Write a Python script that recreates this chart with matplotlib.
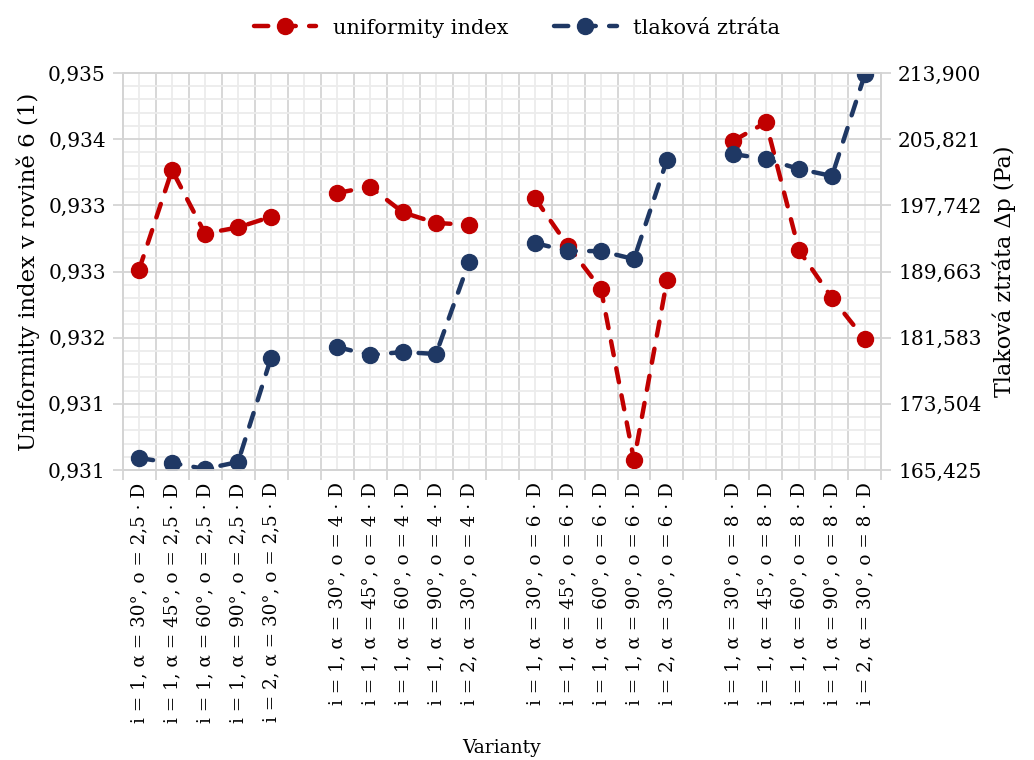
import matplotlib
matplotlib.use("Agg")
import matplotlib.pyplot as plt
import numpy as np

plt.rcParams['font.family'] = ['DejaVu Serif']

# categories ('' = gap between groups)
labels = [
    "i = 1, α = 30°, o = 2,5 · D", "i = 1, α = 45°, o = 2,5 · D", "i = 1, α = 60°, o = 2,5 · D",
    "i = 1, α = 90°, o = 2,5 · D", "i = 2, α = 30°, o = 2,5 · D", "",
    "i = 1, α = 30°, o = 4 · D", "i = 1, α = 45°, o = 4 · D", "i = 1, α = 60°, o = 4 · D",
    "i = 1, α = 90°, o = 4 · D", "i = 2, α = 30°, o = 4 · D", "",
    "i = 1, α = 30°, o = 6 · D", "i = 1, α = 45°, o = 6 · D", "i = 1, α = 60°, o = 6 · D",
    "i = 1, α = 90°, o = 6 · D", "i = 2, α = 30°, o = 6 · D", "",
    "i = 1, α = 30°, o = 8 · D", "i = 1, α = 45°, o = 8 · D", "i = 1, α = 60°, o = 8 · D",
    "i = 1, α = 90°, o = 8 · D", "i = 2, α = 30°, o = 8 · D",
]
nan = np.nan
uniformity = [0.93277, 0.93390, 0.93318, 0.93325, 0.93337, nan,
              0.93364, 0.93371, 0.93342, 0.93330, 0.93328, nan,
              0.93358, 0.93304, 0.93255, 0.93061, 0.93265, nan,
              0.93423, 0.93444, 0.93299, 0.93245, 0.93198]
pressure = [166.89, 166.28, 165.55, 166.40, 179.10, nan,
            180.44, 179.47, 179.83, 179.59, 190.82, nan,
            193.14, 192.16, 192.16, 191.18, 203.28, nan,
            204.01, 203.40, 202.18, 201.33, 213.78]

left_ticks = np.linspace(0.9305, 0.935, 7)
left_ticklabels = ['0,931', '0,931', '0,932', '0,933', '0,933', '0,934', '0,935']
right_ticks = np.linspace(165.425, 213.9, 7)
right_ticklabels = ['165,425', '173,504', '181,583', '189,663', '197,742', '205,821', '213,900']

red = '#C00000'
blue = '#1F3864'
grid_major = '#d4d4d4'
grid_minor = '#ececec'

fig = plt.figure(figsize=(10.34, 7.6), dpi=100)
ax = fig.add_axes([0.1185, 0.3816, 0.734, 0.5223])
ax2 = ax.twinx()

x = np.arange(len(labels))
style = dict(lw=3.2, marker='o', ms=11.5, dashes=(3.2, 3.0), dash_capstyle='round')
l1, = ax.plot(x, uniformity, color=red, label='uniformity index', **style)
l2, = ax2.plot(x, pressure, color=blue, label='tlaková ztráta', **style)

ax.set_xlim(-0.5, len(labels) - 0.5)
ax.set_ylim(left_ticks[0], left_ticks[-1])
ax2.set_ylim(right_ticks[0], right_ticks[-1])

# x: major ticks at boundaries, labels on minor ticks at centres
ax.set_xticks(np.arange(-0.5, len(labels), 1.0))
ax.set_xticklabels([])
ax.set_xticks(x, minor=True)
ax.set_xticklabels(labels, minor=True, rotation=90, fontsize=13.2)
ax.tick_params(axis='x', which='major', length=7, color=grid_major, width=1.3)
ax.tick_params(axis='x', which='minor', length=0, pad=9)

ax.set_yticks(left_ticks)
ax.set_yticklabels(left_ticklabels, fontsize=14.5)
ax.set_yticks(np.linspace(left_ticks[0], left_ticks[-1], 31), minor=True)
ax.tick_params(axis='y', which='major', length=7, color=grid_major, width=1.3, pad=5)
ax.tick_params(axis='y', which='minor', length=0)

ax2.set_yticks(right_ticks)
ax2.set_yticklabels(right_ticklabels, fontsize=14.5)
ax2.tick_params(axis='y', length=7, color=grid_major, width=1.3, pad=5)

ax.grid(which='major', color=grid_major, lw=1.3)
ax.grid(which='minor', color=grid_minor, lw=1.3)
ax.set_axisbelow(True)

for a in (ax, ax2):
    for s in a.spines.values():
        s.set_color(grid_major)
        s.set_linewidth(1.3)

ax.set_ylabel('Uniformity index v rovině 6 (1)', fontsize=16.5, labelpad=6)
ax2.set_ylabel('Tlaková ztráta Δp (Pa)', fontsize=16, labelpad=8)
ax.set_xlabel('Varianty', fontsize=13.5, labelpad=12)

fig.legend(handles=[l1, l2], loc='upper center', bbox_to_anchor=(0.5, 1.0), ncol=2,
           frameon=False, fontsize=15, handlelength=3.0, columnspacing=2.2)

fig.savefig('out.png', dpi=100)
